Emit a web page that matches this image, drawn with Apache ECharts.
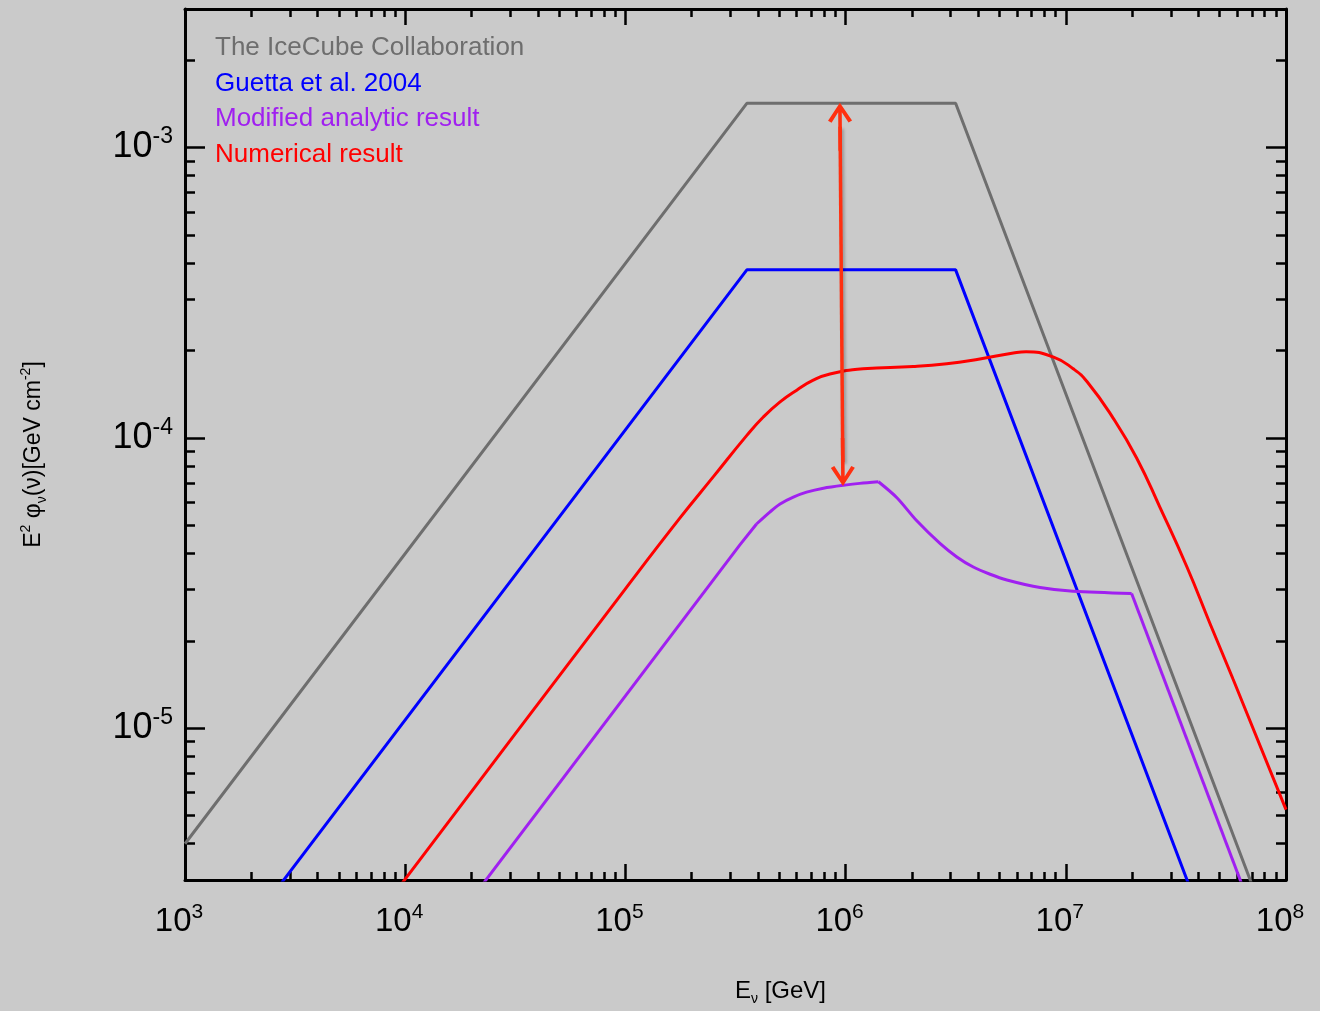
<!DOCTYPE html>
<html>
<head>
<meta charset="utf-8">
<title>E2 phi</title>
<script src="https://cdn.jsdelivr.net/npm/echarts@6/dist/echarts.min.js"></script>
<style>
html,body{margin:0;padding:0;background:#cacaca;}
#main{width:1320px;height:1011px;}
</style>
</head>
<body>
<div id="main"></div>
<script>
// values: E in GeV, E^2 phi in GeV cm^-2
var iceE = [1e3, 3.56e5, 3.16e6, 1e8];
var iceV = [4.0e-6, 1.42e-3, 1.42e-3, 1.42e-6];

var guettaE = [1e3, 3.56e5, 3.16e6, 1e8];
var guettaV = [1.07e-6, 3.79e-4, 3.79e-4, 3.79e-7];

var modE = [2e4, 3.31e5, 3.94e5, 4.54e5, 5.04e5, 5.79e5, 6.65e5, 7.93e5, 9.77e5, 1.16e6, 1.41e6,
	1.71e6, 2.10e6, 2.69e6, 3.20e6, 3.80e6, 4.53e6, 5.40e6, 7.64e6, 1.08e7, 1.99e7, 7e7];
var modV = [2.58e-6, 4.28e-5, 5.05e-5, 5.56e-5, 5.92e-5, 6.25e-5, 6.50e-5, 6.71e-5, 6.87e-5, 6.97e-5, 7.06e-5,
	6.22e-5, 5.19e-5, 4.32e-5, 3.89e-5, 3.59e-5, 3.39e-5, 3.24e-5, 3.05e-5, 2.96e-5, 2.91e-5, 2.35e-6];
// indices where the modified curve has sharp corners
var modBreaks = [0, 2, 10, 20, 21];

var numE = [9e3, 1e4, 1e5, 1.77e5, 2.51e5, 3.56e5, 4.23e5, 5.04e5, 6.00e5, 7.13e5, 8.49e5, 1.20e6, 2.03e6, 2.88e6,
	4.07e6, 5.78e6, 6.60e6, 8.75e6, 1.08e7, 1.25e7, 1.64e7, 2.10e7, 2.68e7, 3.55e7, 4.52e7, 5.74e7, 1e8];
var numV = [2.71e-6, 3.02e-6, 3.02e-5, 5.30e-5, 7.35e-5, 1.02e-4, 1.18e-4, 1.33e-4, 1.46e-4, 1.58e-4, 1.66e-4, 1.73e-4, 1.76e-4, 1.80e-4,
	1.87e-4, 1.96e-4, 1.98e-4, 1.90e-4, 1.73e-4, 1.56e-4, 1.17e-4, 8.51e-5, 5.75e-5, 3.59e-5, 2.29e-5, 1.48e-5, 5.24e-6];

// double arrow between the two flux levels
var arrowE = [9.44e5, 9.71e5];
var arrowV = [1.18e-3, 8.26e-5];

var names = ['The IceCube Collaboration', 'Guetta et al. 2004', 'Modified analytic result', 'Numerical result'];
var colors = ['#6e6e6e', '#0000ff', '#a020f0', '#ff0000'];

var xMajor = [1e3, 1e4, 1e5, 1e6, 1e7, 1e8];
var yMajor = [1e-5, 1e-4, 1e-3];
var xMinor = [];
var yMinor = [];
(function(){
	var k, m;
	for (k = 3; k < 8; k++) for (m = 2; m < 10; m++) xMinor.push(m * Math.pow(10, k));
	for (k = -6; k < -2; k++) for (m = 2; m < 10; m++) yMinor.push(m * Math.pow(10, k));
})();

function pairs(xs, ys){
	var out = [];
	for (var i = 0; i < xs.length; i++) out.push([xs[i], ys[i]]);
	return out;
}

(function(){

var chart = echarts.init(document.getElementById('main'));
var font = 'Liberation Sans';
var xMin = 1e3, xMax = 1e8, yMin = 3e-6, yMax = 3e-3;
var arrowHead = 'path://M12,0 L24,18 L20.5,20 L13.8,9.5 L13.8,48 L10.2,48 L10.2,9.5 L3.5,20 L0,18 Z';

function powLabel(v){
	return '10{sup|' + Math.round(Math.log10(v)) + '}';
}

// one axis = a side of the frame, major or minor ticks
function xAx(pos, major, withLabel){
	var a = {
		type: 'log', logBase: 10, min: xMin, max: xMax, position: pos,
		axisLine: {show: major, lineStyle: {color: '#000', width: 3}},
		axisTick: {show: true, inside: true, length: major ? 16 : 8,
			customValues: major ? xMajor : xMinor,
			lineStyle: {color: '#000', width: 2.5}},
		axisLabel: {show: false},
		splitLine: {show: false}
	};
	if (withLabel) {
		a.axisLabel = {
			show: true, customValues: xMajor, formatter: powLabel, margin: 22,
			color: '#000', fontFamily: font, fontSize: 33, lineHeight: 40, padding: [0, 12, 0, 0],
			rich: {sup: {fontSize: 21, lineHeight: 20, verticalAlign: 'top', color: '#000', fontFamily: font}}
		};
		a.name = 'E{sub|\u03bd} [GeV]';
		a.nameLocation = 'middle';
		a.nameGap = 96;
		a.nameTextStyle = {
			color: '#000', fontFamily: font, fontSize: 24, lineHeight: 30, padding: [0, 0, 0, 90],
			rich: {sub: {fontSize: 14, lineHeight: 14, verticalAlign: 'bottom', color: '#000', fontFamily: font}}
		};
	}
	return a;
}

function yAx(pos, major, withLabel){
	var a = {
		type: 'log', logBase: 10, min: yMin, max: yMax, position: pos,
		axisLine: {show: major, lineStyle: {color: '#000', width: 3}},
		axisTick: {show: true, inside: true, length: major ? 20 : 10,
			customValues: major ? yMajor : yMinor,
			lineStyle: {color: '#000', width: 2.5}},
		axisLabel: {show: false},
		splitLine: {show: false}
	};
	if (withLabel) {
		a.axisLabel = {
			show: true, customValues: yMajor, formatter: powLabel, margin: 12,
			color: '#000', fontFamily: font, fontSize: 36, lineHeight: 44,
			rich: {sup: {fontSize: 23, lineHeight: 20, verticalAlign: 'top', color: '#000', fontFamily: font}}
		};
		a.name = 'E{sup|2} \u03c6{sub|\u03bd}(\u03bd)[GeV cm{sup|-2}]';
		a.nameLocation = 'middle';
		a.nameRotate = 90;
		a.nameGap = 136;
		a.nameTextStyle = {
			color: '#000', fontFamily: font, fontSize: 23, lineHeight: 30, padding: [0, 20, 0, 0],
			rich: {
				sup: {fontSize: 14, lineHeight: 14, verticalAlign: 'top', color: '#000', fontFamily: font},
				sub: {fontSize: 14, lineHeight: 14, verticalAlign: 'bottom', color: '#000', fontFamily: font}
			}
		};
	}
	return a;
}

function curve(i, data, width, smooth){
	return {
		name: names[i], type: 'line', xAxisIndex: 0, yAxisIndex: 0,
		data: data, symbol: 'none', smooth: smooth, clip: true,
		lineStyle: {color: colors[i], width: width},
		itemStyle: {color: colors[i]},
		emphasis: {disabled: true}
	};
}

var series = [
	curve(0, pairs(iceE, iceV), 3, false),
	curve(1, pairs(guettaE, guettaV), 3, false),
	curve(3, pairs(numE, numV), 3, 0.5)
];
// modified curve: straight pieces + smooth pieces between its corners
var modPts = pairs(modE, modV);
var modSmooth = [false, 0.3, 0.3, false];
for (var s = 0; s < modBreaks.length - 1; s++) {
	series.push(curve(2, modPts.slice(modBreaks[s], modBreaks[s + 1] + 1), 3, modSmooth[s]));
}
series.push({
	name: 'arrow', type: 'line', xAxisIndex: 0, yAxisIndex: 0, data: [], symbol: 'none',
	markLine: {
		silent: true, animation: false,
		symbol: [arrowHead, arrowHead], symbolSize: [24, 48],
		label: {show: false},
		emphasis: {disabled: true},
		lineStyle: {color: '#ff3010', width: 3.5, type: 'solid',
			shadowBlur: 3, shadowColor: 'rgba(0,0,0,0.25)', shadowOffsetX: 2, shadowOffsetY: 2},
		data: [[{coord: [arrowE[0], arrowV[0]]}, {coord: [arrowE[1], arrowV[1]]}]]
	}
});

option = {
	backgroundColor: '#cacaca',
	animation: false,
	grid: {left: 185, right: 34, top: 9, bottom: 127},
	legend: {
		orient: 'vertical', left: 205, top: 30, padding: 5,
		itemWidth: 0, itemHeight: 0, itemGap: 9.5, icon: 'rect',
		selectedMode: false,
		textStyle: {fontFamily: font, fontSize: 26, lineHeight: 26},
		data: names.map(function(n, i){ return {name: n, textStyle: {color: colors[i]}}; })
	},
	xAxis: [xAx('bottom', true, true), xAx('bottom', false, false), xAx('top', true, false), xAx('top', false, false)],
	yAxis: [yAx('left', true, true), yAx('left', false, false), yAx('right', true, false), yAx('right', false, false)],
	series: series
};

chart.setOption(option);
})();
</script>
</body>
</html>
